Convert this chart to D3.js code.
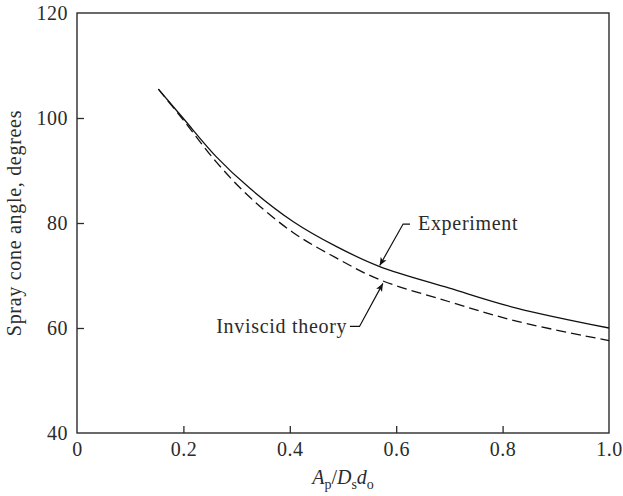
<!DOCTYPE html>
<html>
<head>
<meta charset="utf-8">
<script src="https://cdn.jsdelivr.net/npm/d3@7"></script>
<style>
    body { margin: 0; background: #fff; }
    svg text { fill: #2b2b2b; }
</style>
</head>
<body>
<svg id="cone" width="623" height="496"></svg>
<script>
// values
const xExperiment = [0.153, 0.2, 0.262, 0.325, 0.406, 0.488, 0.569, 0.70, 0.826, 1.0];
const yExperiment = [105.5, 99.9, 92.6, 86.6, 80.3, 75.5, 71.7, 67.6, 63.8, 60.0];
const xInviscid = [0.153, 0.2, 0.262, 0.325, 0.406, 0.488, 0.569, 0.70, 0.826, 1.0];
const yInviscid = [105.5, 99.6, 91.6, 84.9, 78.2, 73.3, 69.2, 65.0, 61.3, 57.6];
const xTicks = [0, 0.2, 0.4, 0.6, 0.8, 1.0];
const yTicks = [40, 60, 80, 100, 120];

const svg = d3.select("svg#cone");
const width = +svg.attr("width");
const height = +svg.attr("height");
const margin = { top: 13, right: 14, bottom: 63, left: 77 };
const chartWidth = width - margin.left - margin.right;
const chartHeight = height - margin.top - margin.bottom;
const ink = "#2b2b2b";
const serif = "'Liberation Serif', 'DejaVu Serif', serif";

const xScale = d3.scaleLinear().domain([0, 1]).range([0, chartWidth]);
const yScale = d3.scaleLinear().domain([40, 120]).range([chartHeight, 0]);

const chart = svg.append("g").attr("transform", `translate(${margin.left},${margin.top})`);

// axes, ticks point inward
const leftAxis = d3.axisLeft(yScale).tickValues(yTicks).tickFormat(d3.format("d"))
    .tickSizeInner(-7).tickSizeOuter(0).tickPadding(9);
const bottomAxis = d3.axisBottom(xScale).tickValues(xTicks)
    .tickFormat(d => d === 0 ? "0" : d3.format(".1f")(d))
    .tickSizeInner(-7).tickSizeOuter(0).tickPadding(9);

const gy = chart.append("g").attr("class", "y axis").call(leftAxis);
const gx = chart.append("g").attr("class", "x axis")
    .attr("transform", `translate(0,${chartHeight})`).call(bottomAxis);
[gx, gy].forEach(g => {
    g.attr("font-family", null).attr("font-size", null);
    g.select(".domain").remove();
    g.selectAll("line").attr("stroke", ink).attr("stroke-width", 1.3);
    g.selectAll("text").style("font-family", serif).style("font-size", "20px")
        .style("letter-spacing", "0.5px").attr("fill", ink);
});
gx.selectAll(".tick").filter(d => d === 0 || d === 1).select("line").remove();
gy.selectAll(".tick").filter(d => d === 40 || d === 120).select("line").remove();

// frame
chart.append("rect")
    .attr("width", chartWidth).attr("height", chartHeight)
    .attr("fill", "none").attr("stroke", ink).attr("stroke-width", 1.4);

// curves
const line = d3.line()
    .x(d => xScale(d[0]))
    .y(d => yScale(d[1]))
    .curve(d3.curveCatmullRom.alpha(0.5));

chart.append("path")
    .datum(d3.zip(xExperiment, yExperiment))
    .attr("d", line).attr("fill", "none")
    .attr("stroke", "#111").attr("stroke-width", 1.3);

chart.append("path")
    .datum(d3.zip(xInviscid, yInviscid))
    .attr("d", line).attr("fill", "none")
    .attr("stroke", "#111").attr("stroke-width", 1.3)
    .attr("stroke-dasharray", "10,5");

// annotations with leader arrows
svg.append("defs").append("marker")
    .attr("id", "head").attr("viewBox", "0 0 10 10")
    .attr("refX", 10).attr("refY", 5)
    .attr("markerWidth", 8).attr("markerHeight", 8)
    .attr("markerUnits", "userSpaceOnUse")
    .attr("orient", "auto")
    .append("path").attr("d", "M0,0.8L10,5L0,9.2L2.5,5Z").attr("fill", "#111");

const notes = [
    { label: "Experiment", pts: [[0.626, 79.8], [0.613, 79.8], [0.569, 71.9]], anchor: "start", tx: 0.641 },
    { label: "Inviscid theory", pts: [[0.513, 60.3], [0.531, 60.3], [0.575, 68.5]], anchor: "end", tx: 0.508 }
];
const leader = d3.line().x(d => xScale(d[0])).y(d => yScale(d[1]));
notes.forEach(n => {
    chart.append("path").attr("d", leader(n.pts))
        .attr("fill", "none").attr("stroke", "#111").attr("stroke-width", 1.2)
        .attr("marker-end", "url(#head)");
    chart.append("text")
        .attr("x", xScale(n.tx)).attr("y", yScale(n.pts[0][1]))
        .attr("dy", "0.32em").attr("text-anchor", n.anchor)
        .style("font-family", serif).style("font-size", "20px")
        .style("letter-spacing", "0.7px").text(n.label);
});

// axis titles
svg.append("text")
    .attr("transform", `translate(21,${margin.top + chartHeight / 2}) rotate(-90)`)
    .attr("text-anchor", "middle")
    .style("font-family", serif).style("font-size", "20px").style("letter-spacing", "0.7px")
    .text("Spray cone angle, degrees");

const xt = svg.append("text")
    .attr("x", margin.left + chartWidth / 2).attr("y", 484)
    .attr("text-anchor", "middle")
    .style("font-family", serif).style("font-size", "20px");
xt.append("tspan").attr("font-style", "italic").text("A");
xt.append("tspan").attr("font-size", 14).attr("dy", 5).text("p");
xt.append("tspan").attr("dy", -5).text("/");
xt.append("tspan").attr("font-style", "italic").text("D");
xt.append("tspan").attr("font-size", 14).attr("dy", 5).text("s");
xt.append("tspan").attr("dy", -5).attr("font-style", "italic").text("d");
xt.append("tspan").attr("font-size", 14).attr("dy", 5).text("o");
</script>
</body>
</html>
